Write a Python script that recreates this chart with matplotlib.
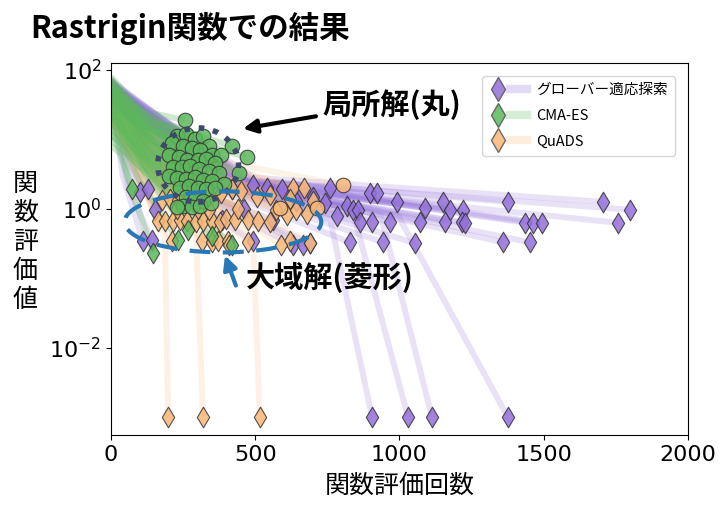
import matplotlib
matplotlib.use("Agg")
import matplotlib.pyplot as plt
from matplotlib.lines import Line2D
from matplotlib.patches import Ellipse
from matplotlib.legend_handler import HandlerTuple
from matplotlib.ticker import NullLocator

plt.rcParams['font.family'] = ['Noto Sans CJK JP', 'DejaVu Sans']

labels = ["グローバー適応探索", "CMA-ES", "QuADS"]
colors = ["#9370DB", "#5cb85c", "#f8b878"]

# グローバー適応探索: start value, knee, final point
grover_start = [60, 45, 70, 50, 40, 55, 65, 50, 60, 75, 55, 45, 70, 60, 50, 65, 55, 40, 60, 50,
                70, 45, 55, 60, 50, 65, 55, 45, 70, 60, 55, 50, 65, 60, 55, 70, 45, 60, 50, 55,
                65, 60, 50, 55, 70, 60, 50, 55, 65, 60, 45]
grover_knee_x = [50, 60, 70, 40, 60, 200, 150, 200, 220, 250, 250, 280, 300, 300, 350, 350, 350, 250, 300, 320,
                 320, 260, 220, 400, 380, 400, 380, 400, 420, 450, 420, 450, 480, 500, 500, 480, 380, 400, 400, 420,
                 430, 450, 450, 480, 480, 500, 380, 400, 420, 460, 480]
grover_knee_y = [5, 6, 4, 3, 2, 2.5, 4, 3, 3.5, 3, 2.8, 2.5, 2.6, 2.2, 2.8, 2.0, 2.4, 1.5, 1.6, 1.8,
                 1.5, 2.0, 2.5, 2.6, 2.8, 2.4, 2.2, 2.3, 2.5, 2.6, 2.3, 2.4, 2.6, 2.8, 2.5, 2.2, 2.0, 2.1, 2.2, 2.2,
                 2.3, 2.2, 2.1, 2.4, 2.3, 2.4, 1.8, 1.9, 2.0, 2.2, 2.2]
grover_end_x = [100, 128, 153, 111, 142, 385, 300, 420, 492, 541, 593, 640, 700, 742, 759, 783, 818, 492, 631, 665,
                690, 560, 460, 898, 922, 991, 839, 856, 1088, 1151, 1175, 1220, 1376, 1705, 1799, 1757, 863, 905, 967, 1071,
                1158, 1217, 1227, 1435, 1463, 1494, 828, 943, 1054, 1359, 1452]
grover_end_y = [1.75, 1.9, 0.97, 0.34, 0.36, 0.69, 2.0, 1.9, 2.2, 2.0, 1.9, 1.3, 1.5, 1.2, 2.0, 0.8, 1.1, 0.34, 0.30, 0.30,
                0.32, 0.7, 1.0, 1.7, 1.7, 1.26, 0.97, 0.97, 1.03, 1.26, 0.97, 0.97, 1.26, 1.26, 0.97, 0.63, 0.64, 0.64, 0.64, 0.65,
                0.65, 0.64, 0.62, 0.63, 0.63, 0.63, 0.33, 0.33, 0.32, 0.33, 0.33]
# runs that drop to the floor value
grover_drop_start = [55, 60, 50, 65]
grover_drop_knee_x = [400, 420, 450, 480]
grover_drop_knee_y = [2.2, 2.3, 2.3, 2.4]
grover_drop_x = [760, 842, 936, 995]
grover_drop_y = [0.7, 0.8, 0.8, 0.8]
grover_drop_end_x = [905, 1030, 1113, 1376]
grover_drop_end_y = [1e-3, 1e-3, 1e-3, 1e-3]

# CMA-ES
cma_start = [60, 50, 40, 35, 70, 80, 45, 55, 65, 50, 40, 75, 60, 30, 45, 55, 35, 50, 65, 40,
             30, 25, 45, 60, 35, 50, 40, 20, 30, 55, 40, 25, 35, 45, 15, 30, 20, 40, 25, 12,
             18, 22, 10, 15, 20, 25, 12, 8, 30, 20, 15, 25, 35]
cma_knee_x = [120, 150, 160, 160, 110, 120, 130, 140, 150, 100, 110, 120, 130, 150, 160, 100, 110, 120, 130, 140,
              150, 100, 110, 120, 130, 140, 150, 90, 100, 110, 120, 130, 140, 160, 100, 110, 120, 130, 140, 110,
              120, 130, 100, 110, 120, 130, 100, 40, 120, 100, 70, 140, 160]
cma_knee_y = [25, 18, 14, 12, 20, 22, 18, 20, 16, 18, 16, 15, 14, 13, 13, 14, 12, 12, 12, 12,
              11, 10, 10, 10, 9, 9, 9, 8, 8, 8, 8, 7, 7, 7, 6, 6, 6, 6, 6, 5,
              5, 5, 4, 4, 4, 4, 4, 6, 3, 2.5, 2, 3, 3]
cma_end_x = [256, 420, 470, 445, 230, 260, 290, 320, 340, 210, 250, 280, 310, 350, 380, 200, 235, 265, 300, 330,
             360, 215, 245, 275, 305, 340, 375, 200, 230, 260, 290, 320, 350, 390, 240, 270, 300, 330, 360, 260,
             290, 320, 250, 280, 310, 345, 230, 73, 267, 232, 146, 350, 420]
cma_end_y = [19, 8, 5.5, 3.3, 11, 12, 10, 11, 8, 9, 8, 7.5, 7, 6, 6, 6, 5.5, 5, 5, 5.2,
             4.5, 4, 4, 4.2, 3.8, 3.5, 3.3, 3, 2.8, 2.7, 2.9, 2.6, 2.5, 2.3, 2.0, 2.1, 2.0, 1.9, 2.0, 1.5,
             1.4, 1.3, 1.1, 1.05, 1.1, 1.2, 1.05, 1.9, 0.5, 0.36, 0.23, 0.4, 0.3]
cma_local = [True] * 47 + [False] * 6

# QuADS
quads_start = [25, 30, 20, 35, 28, 22, 40, 30, 18, 25, 32, 45, 28, 20, 26,
               22, 30, 18, 35, 25, 28, 40, 20, 32, 24, 30, 38, 22, 26, 34, 20, 28, 36, 24, 30, 22, 27,
               20, 30, 25, 35, 22, 28, 32, 26, 38, 24, 30, 25, 35]
quads_knee_x = [90, 100, 110, 120, 140, 150, 160, 180, 190, 200, 210, 230, 240, 230, 250,
                80, 90, 100, 110, 120, 130, 140, 150, 160, 170, 180, 190, 200, 210, 220, 230, 240, 250, 180, 130, 150, 110,
                100, 140, 150, 160, 170, 180, 250, 230, 220, 190, 260, 240, 220]
quads_knee_y = [4, 5, 4.5, 6, 5, 4.5, 5, 6, 5.5, 4.5, 5, 6, 5.5, 4.5, 4,
                3.5, 4, 3.8, 4.2, 4, 3.6, 4, 4.2, 3.8, 4.5, 4, 4.2, 3.8, 3.6, 4.5, 4, 4.8, 4.2, 5, 4.5, 4.2, 4.8,
                3, 3.5, 3.2, 3.4, 3.6, 3.0, 3.5, 3.4, 3.2, 3.3, 6, 4.5, 4.2]
quads_end_x = [178, 205, 232, 260, 300, 340, 380, 420, 450, 505, 550, 630, 670, 620, 700,
               163, 187, 215, 240, 264, 294, 320, 350, 378, 400, 430, 475, 510, 550, 572, 610, 640, 680, 440, 300, 340, 230,
               211, 315, 350, 370, 405, 410, 690, 620, 590, 475, 804, 714, 586]
quads_end_y = [1.35, 1.4, 1.35, 1.9, 1.8, 1.6, 1.7, 1.9, 1.8, 1.5, 1.6, 2.0, 2.0, 1.4, 1.3,
               0.66, 0.66, 0.66, 0.68, 0.66, 0.64, 0.66, 0.66, 0.64, 0.72, 0.68, 0.70, 0.66, 0.64, 0.95, 0.82, 0.95, 0.85,
               1.0, 1.0, 0.95, 1.0,
               0.34, 0.34, 0.33, 0.34, 0.34, 0.30, 0.32, 0.34, 0.30, 0.33, 2.2, 1.03, 1.03]
quads_local = [False] * 47 + [True] * 3
quads_drop_start = [30, 25, 35]
quads_drop_knee_x = [80, 110, 150]
quads_drop_knee_y = [4, 4.5, 5]
quads_drop_x = [187, 295, 492]
quads_drop_y = [0.4, 0.4, 0.4]
quads_drop_end_x = [198, 319, 516]
quads_drop_end_y = [1e-3, 1e-3, 1e-3]

fig = plt.figure(figsize=(7.21, 5.12), dpi=100)
ax = fig.add_axes([0.154, 0.150, 0.800, 0.727])
ax.set_yscale("log")

lw = 4.3

def draw_lines(starts, kx, ky, ex, ey, color, alpha):
    for s, a, b, c, d in zip(starts, kx, ky, ex, ey):
        ax.plot([0, a, c], [s, b, d], color=color, alpha=alpha, lw=lw, solid_capstyle="butt")

def draw_drop_lines(starts, kx, ky, dx, dy, ex, ey, color, alpha):
    for s, a, b, p, q, c, d in zip(starts, kx, ky, dx, dy, ex, ey):
        ax.plot([0, a, p, c], [s, b, q, d], color=color, alpha=alpha, lw=lw, solid_capstyle="butt")

draw_lines(grover_start, grover_knee_x, grover_knee_y, grover_end_x, grover_end_y, colors[0], 0.2)
draw_drop_lines(grover_drop_start, grover_drop_knee_x, grover_drop_knee_y, grover_drop_x, grover_drop_y,
                grover_drop_end_x, grover_drop_end_y, colors[0], 0.2)
draw_lines(quads_start, quads_knee_x, quads_knee_y, quads_end_x, quads_end_y, colors[2], 0.18)
draw_drop_lines(quads_drop_start, quads_drop_knee_x, quads_drop_knee_y, quads_drop_x, quads_drop_y,
                quads_drop_end_x, quads_drop_end_y, colors[2], 0.2)
draw_lines(cma_start, cma_knee_x, cma_knee_y, cma_end_x, cma_end_y, colors[1], 0.3)

mk = dict(s=110, edgecolors="#333333", linewidths=0.8, alpha=0.85, zorder=3)

def draw_markers(ex, ey, local, color):
    dx = [x for x, l in zip(ex, local) if not l]
    dy = [y for y, l in zip(ey, local) if not l]
    ox = [x for x, l in zip(ex, local) if l]
    oy = [y for y, l in zip(ey, local) if l]
    ax.scatter(dx, dy, marker="d", color=color, **mk)
    if ox:
        ax.scatter(ox, oy, marker="o", color=color, **mk)

draw_markers(grover_end_x + grover_drop_end_x, grover_end_y + grover_drop_end_y,
             [False] * (len(grover_end_x) + len(grover_drop_end_x)), colors[0])
draw_markers(quads_end_x + quads_drop_end_x, quads_end_y + quads_drop_end_y,
             quads_local + [False] * len(quads_drop_end_x), colors[2])
draw_markers(cma_end_x, cma_end_y, cma_local, colors[1])

ax.set_xlim(0, 2000)
ax.set_ylim(10 ** -3.26, 10 ** 2.1)
ax.set_xticks([0, 500, 1000, 1500, 2000])
ax.set_yticks([1e-2, 1, 1e2])
ax.yaxis.set_minor_locator(NullLocator())
ax.tick_params(labelsize=16)
for t in ax.get_xticklabels() + ax.get_yticklabels():
    t.set_fontfamily("DejaVu Sans")
ax.set_xlabel("関数評価回数", fontsize=18, labelpad=6)

# legend: marker + faint line
handles = []
for c in colors:
    m = Line2D([], [], marker="d", linestyle="none", markersize=12, markerfacecolor=c,
               markeredgecolor="#555555", alpha=0.85)
    l = Line2D([], [], color=c, lw=6, alpha=0.25)
    handles.append((m, l))
ax.legend(handles, labels, loc="upper right", fontsize=10.5, handlelength=2.6,
          handler_map={tuple: HandlerTuple(ndivide=None, pad=0.3)},
          borderpad=0.5, labelspacing=0.8, handletextpad=0.6, bbox_to_anchor=(0.99, 0.985))

# annotations
ax.add_patch(Ellipse((0.151, 0.726), 0.140, 0.199, transform=ax.transAxes, fill=False,
                     edgecolor="#3d4a6b", lw=4, linestyle=(0, (1, 1.6)), zorder=4))
ax.add_patch(Ellipse((0.194, 0.573), 0.341, 0.164, transform=ax.transAxes, fill=False,
                     edgecolor="#2878b5", lw=3, linestyle=(0, (5, 3)), zorder=4))
ax.annotate("", xy=(0.224, 0.822), xytext=(0.360, 0.858), xycoords="axes fraction",
            arrowprops=dict(arrowstyle="-|>,head_length=0.8,head_width=0.4", color="black", lw=3), zorder=5)
ax.text(0.366, 0.887, "局所解(丸)", transform=ax.transAxes, fontsize=21, fontweight="bold",
        va="center", ha="left", zorder=5)
ax.annotate("", xy=(0.196, 0.490), xytext=(0.218, 0.395), xycoords="axes fraction",
            arrowprops=dict(arrowstyle="-|>,head_length=0.8,head_width=0.4", color="#2878b5", lw=3), zorder=5)
ax.text(0.234, 0.425, "大域解(菱形)", transform=ax.transAxes, fontsize=21, fontweight="bold",
        va="center", ha="left", zorder=5)

fig.text(0.035, 0.527, "関\n数\n評\n価\n値", fontsize=18, ha="center", va="center", linespacing=1.15)
fig.text(0.042, 0.945, "Rastrigin関数での結果", fontsize=22, fontweight="bold", ha="left", va="center")

fig.savefig("out.png", dpi=100)
